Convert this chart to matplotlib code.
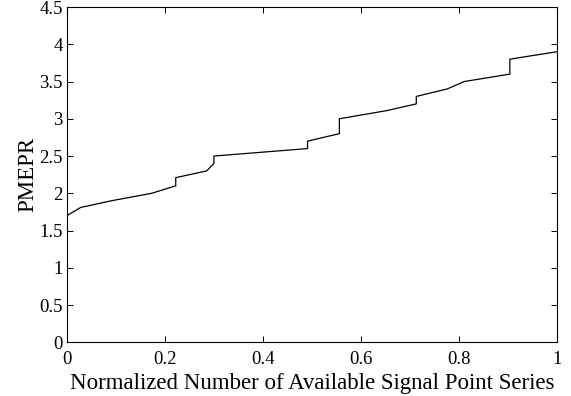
import matplotlib
matplotlib.use('Agg')
import matplotlib.pyplot as plt

# Courbe PMEPR en fonction du nombre normalise de series
fraction = [0, 0.028, 0.091, 0.173, 0.222, 0.222, 0.285, 0.300, 0.300,
            0.491, 0.491, 0.556, 0.556, 0.653, 0.713, 0.713, 0.776,
            0.811, 0.904, 0.904, 1.0]
pmepr = [1.70, 1.81, 1.90, 2.00, 2.10, 2.21, 2.30, 2.40, 2.50,
         2.60, 2.70, 2.80, 3.00, 3.11, 3.20, 3.30, 3.40,
         3.50, 3.60, 3.80, 3.90]

xticks = [0, 0.2, 0.4, 0.6, 0.8, 1]
xticklabels = ['0', '0.2', '0.4', '0.6', '0.8', '1']
yticks = [0, 0.5, 1, 1.5, 2, 2.5, 3, 3.5, 4, 4.5]
yticklabels = ['0', '0.5', '1', '1.5', '2', '2.5', '3', '3.5', '4', '4.5']

plt.rcParams['font.family'] = ['Liberation Serif', 'DejaVu Serif']

fig = plt.figure(figsize=(5.71, 3.96), dpi=100)
ax = fig.add_axes([0.1173, 0.1356, 0.858, 0.8467])

ax.plot(fraction, pmepr, '-k', linewidth=0.9)

ax.set_xlim(0, 1)
ax.set_ylim(0, 4.5)
ax.set_xticks(xticks)
ax.set_xticklabels(xticklabels)
ax.set_yticks(yticks)
ax.set_yticklabels(yticklabels)
ax.tick_params(direction='in', top=True, right=True, length=4, width=0.7,
               labelsize=13.5)
ax.tick_params(axis='x', pad=6)
ax.tick_params(axis='y', pad=3)
for s in ax.spines.values():
    s.set_linewidth(0.8)

ax.set_xlabel('Normalized Number of Available Signal Point Series',
              fontsize=16.5, labelpad=4)
ax.set_ylabel('PMEPR', fontsize=16.5, labelpad=1)

fig.savefig('out.png', dpi=100)
